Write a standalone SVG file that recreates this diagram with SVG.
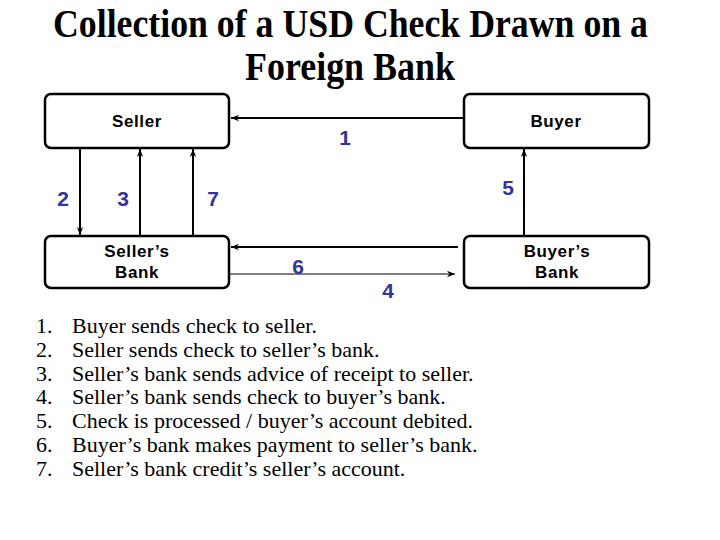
<svg xmlns="http://www.w3.org/2000/svg" width="720" height="540" viewBox="0 0 720 540">
<defs>
<marker id="ah" viewBox="0 0 10 10" refX="10" refY="5" markerWidth="8" markerHeight="8" markerUnits="userSpaceOnUse" orient="auto">
<path d="M0,1 L10,5 L0,9 L3,5 Z" fill="#000"/>
</marker>
<style>
.box{fill:#fff;stroke:#000;stroke-width:2.5}
.lbl{font-family:"Liberation Sans",Arial,sans-serif;font-weight:bold;font-size:17px;letter-spacing:0.6px;text-anchor:middle;fill:#000}
.num{font-family:"Liberation Sans",Arial,sans-serif;font-weight:bold;font-size:21px;text-anchor:middle;fill:#33339c}
.ln{stroke:#000;stroke-width:2;fill:none}
.thin{stroke:#000;stroke-width:1.2;fill:none}
.title{font-family:"Liberation Serif","Times New Roman",serif;font-weight:bold;font-size:39px;fill:#000}
.list{font-family:"Liberation Serif","Times New Roman",serif;font-size:22px;fill:#000}
</style>
</defs>
<rect width="720" height="540" fill="#fff"/>
<g id="title">
<text class="title" x="53" y="37" textLength="595" lengthAdjust="spacingAndGlyphs">Collection of a USD Check Drawn on a</text>
<text class="title" x="245" y="80" textLength="210" lengthAdjust="spacingAndGlyphs">Foreign Bank</text>
</g>
<g id="connectors">
<line class="ln" x1="464" y1="118" x2="231" y2="118" marker-end="url(#ah)"/>
<line class="ln" x1="458" y1="247" x2="231" y2="247" marker-end="url(#ah)"/>
<line class="thin" x1="227" y1="274" x2="455" y2="274" marker-end="url(#ah)"/>
<line class="ln" x1="80" y1="148" x2="80" y2="235" marker-end="url(#ah)"/>
<line class="ln" x1="140" y1="236" x2="140" y2="149" marker-end="url(#ah)"/>
<line class="ln" x1="193" y1="236" x2="193" y2="149" marker-end="url(#ah)"/>
<line class="ln" x1="524" y1="236" x2="524" y2="149" marker-end="url(#ah)"/>
<text class="num" x="345" y="145">1</text>
<text class="num" x="63" y="206">2</text>
<text class="num" x="123" y="206">3</text>
<text class="num" x="213" y="206">7</text>
<text class="num" x="508" y="195">5</text>
<text class="num" x="298" y="274">6</text>
<text class="num" x="388" y="298">4</text>
</g>
<g id="seller">
<rect class="box" x="45" y="94" width="184" height="54" rx="6"/>
<text class="lbl" x="137" y="127">Seller</text>
</g>
<g id="buyer">
<rect class="box" x="464" y="94" width="185" height="54" rx="6"/>
<text class="lbl" x="556" y="127">Buyer</text>
</g>
<g id="sellers-bank">
<rect class="box" x="45" y="236" width="184" height="52" rx="6"/>
<text class="lbl" x="137" y="257">Seller’s</text>
<text class="lbl" x="137" y="278">Bank</text>
</g>
<g id="buyers-bank">
<rect class="box" x="464" y="236" width="185" height="52" rx="6"/>
<text class="lbl" x="557" y="257">Buyer’s</text>
<text class="lbl" x="557" y="278">Bank</text>
</g>
<g id="list" class="list">
<text x="36" y="333">1.</text><text x="72" y="333">Buyer sends check to seller.</text>
<text x="36" y="357">2.</text><text x="72" y="357">Seller sends check to seller’s bank.</text>
<text x="36" y="381">3.</text><text x="72" y="381">Seller’s bank sends advice of receipt to seller.</text>
<text x="36" y="404">4.</text><text x="72" y="404">Seller’s bank sends check to buyer’s bank.</text>
<text x="36" y="428">5.</text><text x="72" y="428">Check is processed / buyer’s account debited.</text>
<text x="36" y="452">6.</text><text x="72" y="452">Buyer’s bank makes payment to seller’s bank.</text>
<text x="36" y="476">7.</text><text x="72" y="476">Seller’s bank credit’s seller’s account.</text>
</g>
</svg>
